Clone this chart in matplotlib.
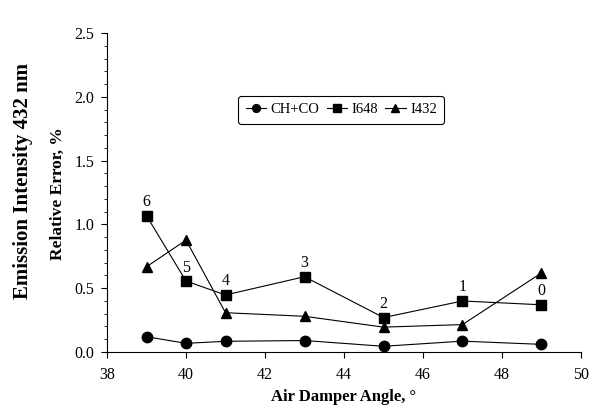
import numpy as np
import matplotlib
matplotlib.use("Agg")
import matplotlib.pyplot as plt

plt.rcParams["font.family"] = ["Liberation Serif", "DejaVu Serif"]

angle = [39, 40, 41, 43, 45, 47, 49]
ch_co = [0.12, 0.068, 0.084, 0.09, 0.045, 0.085, 0.06]
i648 = [1.068, 0.556, 0.447, 0.59, 0.27, 0.40, 0.37]
i432 = [0.668, 0.877, 0.308, 0.28, 0.195, 0.215, 0.62]
point_labels = ["6", "5", "4", "3", "2", "1", "0"]

fig = plt.figure(figsize=(5.89, 4.07), dpi=100)
ax = fig.add_axes([0.1817, 0.1351, 0.8047, 0.7838])

line_kw = dict(color="black", lw=0.8, markersize=7.5)
ax.plot(angle, ch_co, marker="o", label="CH+CO", **line_kw)
ax.plot(angle, i648, marker="s", label="I648", **line_kw)
ax.plot(angle, i432, marker="^", label="I432", **line_kw)

# point numbers above the I648 squares
for x, y, t in zip(angle, i648, point_labels):
    ax.annotate(t, (x, y), xytext=(0, 4), textcoords="offset points",
                ha="center", va="bottom", fontsize=11.5)

ax.set_xlim(38, 50)
ax.set_ylim(0, 2.5)
ax.set_xticks(np.arange(38, 51, 2))
ax.set_yticks(np.arange(0, 2.51, 0.5))
ax.set_yticks(np.arange(0, 2.51, 0.1), minor=True)
ax.yaxis.set_major_formatter(matplotlib.ticker.FormatStrFormatter("%.1f"))
ax.tick_params(axis="both", which="major", direction="out", length=4,
               width=0.8, labelsize=11.5)
ax.tick_params(axis="x", which="major", pad=7)
ax.tick_params(axis="y", which="major", pad=5)
ax.tick_params(axis="y", which="minor", direction="out", length=2, width=0.6)
for s in ["top", "right"]:
    ax.spines[s].set_visible(False)
for s in ["left", "bottom"]:
    ax.spines[s].set_linewidth(0.8)

ax.set_xlabel("Air Damper Angle, \u00b0", fontsize=12, fontweight="bold",
              labelpad=4)

fig.text(0.039, 0.555, "Emission Intensity 432 nm", rotation=90,
         fontsize=15, fontweight="bold", ha="center", va="center")
fig.text(0.099, 0.525, "Relative Error, %", rotation=90,
         fontsize=12.5, fontweight="bold", ha="center", va="center")

leg = ax.legend(loc="center", bbox_to_anchor=(0.494, 0.759), ncol=3,
                fontsize=10.5, frameon=True, fancybox=True, handlelength=1.4,
                handletextpad=0.3, columnspacing=0.5, borderpad=0.5,
                markerscale=0.75)
leg.get_frame().set_edgecolor("black")
leg.get_frame().set_linewidth(0.8)
leg.get_frame().set_alpha(1)

fig.savefig("out.png", dpi=100)
